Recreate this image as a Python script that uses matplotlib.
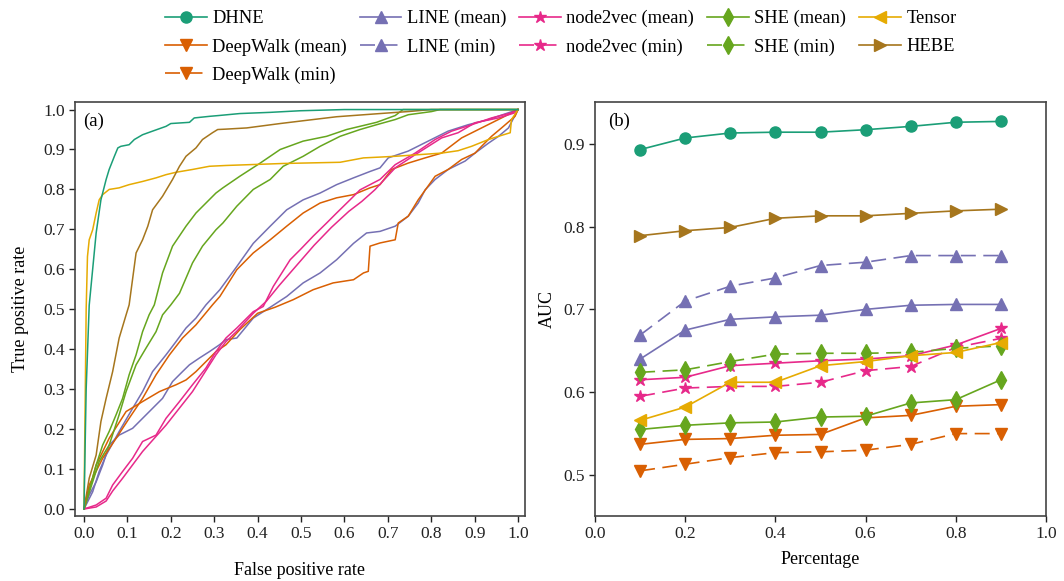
import matplotlib
matplotlib.use("Agg")
import matplotlib.pyplot as plt
import numpy as np

plt.rcParams['font.family'] = ['Liberation Serif', 'DejaVu Serif']
plt.rcParams['mathtext.fontset'] = 'stix'

# ---------------- Panel (b) data ----------------
pct = [0.1, 0.2, 0.3, 0.4, 0.5, 0.6, 0.7, 0.8, 0.9]
auc_dhne = [0.893, 0.907, 0.913, 0.914, 0.914, 0.917, 0.921, 0.926, 0.927]
auc_deepwalk_mean = [0.537, 0.543, 0.544, 0.548, 0.549, 0.569, 0.572, 0.583, 0.585]
auc_deepwalk_min = [0.505, 0.513, 0.521, 0.527, 0.528, 0.530, 0.537, 0.550, 0.550]
auc_line_mean = [0.640, 0.675, 0.688, 0.691, 0.693, 0.700, 0.705, 0.706, 0.706]
auc_line_min = [0.669, 0.710, 0.728, 0.738, 0.753, 0.757, 0.765, 0.765, 0.765]
auc_n2v_mean = [0.615, 0.618, 0.632, 0.635, 0.638, 0.640, 0.644, 0.657, 0.677]
auc_n2v_min = [0.595, 0.605, 0.607, 0.607, 0.612, 0.626, 0.631, 0.654, 0.665]
auc_she_mean = [0.555, 0.560, 0.563, 0.564, 0.570, 0.571, 0.587, 0.591, 0.615]
auc_she_min = [0.624, 0.627, 0.637, 0.646, 0.647, 0.647, 0.648, 0.653, 0.656]
auc_tensor = [0.566, 0.582, 0.612, 0.612, 0.632, 0.637, 0.644, 0.648, 0.660]
auc_hebe = [0.789, 0.795, 0.799, 0.810, 0.813, 0.813, 0.816, 0.819, 0.821]

# ---------------- Panel (a) ROC data ----------------
fpr_dhne = [0, 0.005, 0.012, 0.028, 0.039, 0.051, 0.058, 0.070, 0.078, 0.085, 0.104, 0.116, 0.135, 0.158,
            0.189, 0.200, 0.243, 0.254, 0.289, 0.310, 0.359, 0.429, 0.498, 0.60, 1.0]
tpr_dhne = [0, 0.30, 0.51, 0.691, 0.774, 0.825, 0.850, 0.883, 0.904, 0.908, 0.912, 0.925, 0.937, 0.946,
            0.958, 0.965, 0.968, 0.979, 0.983, 0.985, 0.990, 0.993, 0.997, 1.0, 1.0]

fpr_tensor = [0, 0.003, 0.005, 0.008, 0.012, 0.020, 0.028, 0.035, 0.043, 0.058, 0.081, 0.104, 0.135, 0.166,
              0.189, 0.212, 0.250, 0.289, 0.327, 0.459, 0.590, 0.644, 0.682, 0.717, 0.824, 0.862, 0.893,
              0.932, 0.955, 0.982, 0.985, 0.997, 1.0]
tpr_tensor = [0, 0.30, 0.50, 0.632, 0.674, 0.699, 0.741, 0.774, 0.787, 0.800, 0.804, 0.812, 0.820, 0.829,
              0.837, 0.843, 0.850, 0.858, 0.860, 0.865, 0.868, 0.879, 0.881, 0.883, 0.891, 0.897, 0.908,
              0.925, 0.933, 0.942, 0.975, 0.995, 1.0]

fpr_hebe = [0, 0.012, 0.028, 0.039, 0.051, 0.066, 0.081, 0.097, 0.104, 0.120, 0.135, 0.147, 0.158, 0.181,
            0.204, 0.220, 0.235, 0.258, 0.273, 0.296, 0.308, 0.327, 0.375, 0.452, 0.505, 0.582, 0.682,
            0.747, 0.80, 1.0]
tpr_hebe = [0, 0.077, 0.135, 0.219, 0.277, 0.344, 0.428, 0.486, 0.511, 0.641, 0.674, 0.708, 0.749, 0.783,
            0.825, 0.858, 0.883, 0.904, 0.925, 0.942, 0.950, 0.951, 0.954, 0.965, 0.972, 0.982, 0.990,
            0.995, 1.0, 1.0]

fpr_she_a = [0, 0.028, 0.043, 0.058, 0.074, 0.089, 0.104, 0.120, 0.135, 0.150, 0.162, 0.181, 0.204, 0.235,
             0.258, 0.281, 0.304, 0.320, 0.359, 0.406, 0.452, 0.505, 0.559, 0.605, 0.651, 0.674, 0.717,
             0.735, 1.0]
tpr_she_a = [0, 0.110, 0.160, 0.194, 0.236, 0.277, 0.336, 0.386, 0.444, 0.486, 0.511, 0.591, 0.658, 0.708,
             0.741, 0.766, 0.791, 0.804, 0.833, 0.866, 0.900, 0.921, 0.933, 0.950, 0.962, 0.968, 0.985,
             1.0, 1.0]

fpr_she_b = [0, 0.035, 0.058, 0.081, 0.097, 0.120, 0.143, 0.166, 0.181, 0.200, 0.220, 0.250, 0.273, 0.304,
             0.320, 0.352, 0.390, 0.429, 0.459, 0.505, 0.544, 0.590, 0.636, 0.674, 0.717, 0.747, 0.801,
             0.82, 1.0]
tpr_she_b = [0, 0.119, 0.160, 0.236, 0.294, 0.361, 0.403, 0.444, 0.486, 0.511, 0.540, 0.616, 0.658, 0.699,
             0.716, 0.758, 0.800, 0.825, 0.858, 0.883, 0.908, 0.933, 0.950, 0.962, 0.975, 0.987, 0.995,
             1.0, 1.0]

fpr_line_a = [0, 0.020, 0.035, 0.051, 0.081, 0.112, 0.135, 0.158, 0.189, 0.212, 0.235, 0.258, 0.281, 0.313,
              0.352, 0.390, 0.429, 0.467, 0.505, 0.544, 0.582, 0.621, 0.659, 0.682, 0.701, 0.747, 0.793,
              0.839, 0.885, 0.932, 0.978, 1.0]
tpr_line_a = [0, 0.043, 0.094, 0.135, 0.194, 0.252, 0.294, 0.344, 0.386, 0.419, 0.453, 0.478, 0.511, 0.549,
              0.607, 0.665, 0.708, 0.749, 0.774, 0.791, 0.812, 0.829, 0.845, 0.854, 0.879, 0.896, 0.921,
              0.946, 0.962, 0.975, 0.992, 1.0]

fpr_line_b = [0, 0.012, 0.028, 0.043, 0.058, 0.081, 0.112, 0.135, 0.158, 0.181, 0.204, 0.227, 0.243, 0.266,
              0.289, 0.312, 0.327, 0.352, 0.390, 0.429, 0.467, 0.505, 0.544, 0.582, 0.621, 0.651, 0.682,
              0.717, 0.747, 0.770, 0.786, 0.809, 0.839, 0.878, 0.901, 0.932, 0.955, 0.978, 1.0]
tpr_line_b = [0, 0.035, 0.068, 0.110, 0.160, 0.185, 0.202, 0.227, 0.252, 0.277, 0.319, 0.344, 0.361, 0.378,
              0.394, 0.411, 0.424, 0.428, 0.478, 0.505, 0.532, 0.566, 0.591, 0.624, 0.665, 0.691, 0.695,
              0.708, 0.733, 0.766, 0.799, 0.825, 0.850, 0.871, 0.891, 0.916, 0.933, 0.954, 1.0]

fpr_dw_a = [0, 0.012, 0.043, 0.074, 0.104, 0.135, 0.166, 0.197, 0.227, 0.258, 0.296, 0.313, 0.352, 0.390,
            0.429, 0.467, 0.505, 0.544, 0.582, 0.621, 0.659, 0.682, 0.709, 0.747, 0.786, 0.824, 0.870,
            0.916, 0.962, 1.0]
tpr_dw_a = [0, 0.060, 0.127, 0.177, 0.227, 0.277, 0.336, 0.386, 0.428, 0.461, 0.511, 0.532, 0.599, 0.641,
            0.674, 0.708, 0.741, 0.766, 0.779, 0.787, 0.804, 0.812, 0.850, 0.866, 0.879, 0.891, 0.929,
            0.954, 0.979, 1.0]

fpr_dw_b = [0, 0.028, 0.058, 0.097, 0.135, 0.174, 0.212, 0.235, 0.258, 0.281, 0.304, 0.327, 0.360, 0.400,
            0.440, 0.482, 0.528, 0.574, 0.621, 0.644, 0.655, 0.659, 0.682, 0.717, 0.724, 0.747, 0.770,
            0.809, 0.839, 0.870, 0.901, 0.916, 0.939, 0.962, 0.993, 1.0]
tpr_dw_b = [0, 0.110, 0.177, 0.244, 0.269, 0.294, 0.311, 0.323, 0.344, 0.369, 0.394, 0.411, 0.450, 0.490,
            0.505, 0.524, 0.549, 0.566, 0.574, 0.591, 0.595, 0.658, 0.666, 0.674, 0.716, 0.733, 0.774,
            0.833, 0.850, 0.875, 0.891, 0.908, 0.933, 0.954, 0.983, 1.0]

fpr_n2v_a = [0, 0.028, 0.051, 0.066, 0.089, 0.112, 0.135, 0.166, 0.189, 0.220, 0.250, 0.281, 0.304, 0.327,
             0.352, 0.390, 0.413, 0.436, 0.475, 0.498, 0.528, 0.559, 0.582, 0.613, 0.636, 0.682, 0.717,
             0.763, 0.809, 0.847, 0.893, 0.939, 0.985, 1.0]
tpr_n2v_a = [0, 0.010, 0.027, 0.060, 0.094, 0.127, 0.169, 0.185, 0.227, 0.269, 0.311, 0.353, 0.394, 0.428,
             0.453, 0.494, 0.507, 0.557, 0.624, 0.649, 0.683, 0.716, 0.741, 0.774, 0.799, 0.825, 0.862,
             0.891, 0.925, 0.946, 0.962, 0.979, 0.992, 1.0]

fpr_n2v_b = [0, 0.028, 0.051, 0.066, 0.089, 0.135, 0.189, 0.250, 0.304, 0.327, 0.352, 0.390, 0.420, 0.450,
             0.490, 0.530, 0.570, 0.610, 0.640, 0.670, 0.717, 0.763, 0.824, 0.862, 0.901, 0.955, 0.993, 1.0]
tpr_n2v_b = [0, 0.005, 0.020, 0.045, 0.077, 0.144, 0.210, 0.294, 0.386, 0.419, 0.445, 0.490, 0.520, 0.560,
             0.610, 0.660, 0.705, 0.745, 0.770, 0.799, 0.854, 0.887, 0.929, 0.942, 0.967, 0.979, 0.992, 1.0]

# ---------------- Styling ----------------
c_dhne = '#1b9e77'
c_dw = '#d95f02'
c_line = '#7570b3'
c_n2v = '#e7298a'
c_she = '#66a61e'
c_tensor = '#e6ab02'
c_hebe = '#a6761d'

fig = plt.figure(figsize=(10.64, 5.81), dpi=100)
ax_a = fig.add_axes([0.0705, 0.1119, 0.4229, 0.7126])
ax_b = fig.add_axes([0.5592, 0.1119, 0.4239, 0.7126])

lw_a = 1.1
ax_a.plot(fpr_line_b, tpr_line_b, color=c_line, lw=lw_a)
ax_a.plot(fpr_line_a, tpr_line_a, color=c_line, lw=lw_a)
ax_a.plot(fpr_dw_b, tpr_dw_b, color=c_dw, lw=lw_a)
ax_a.plot(fpr_dw_a, tpr_dw_a, color=c_dw, lw=lw_a)
ax_a.plot(fpr_n2v_b, tpr_n2v_b, color=c_n2v, lw=lw_a)
ax_a.plot(fpr_n2v_a, tpr_n2v_a, color=c_n2v, lw=lw_a)
ax_a.plot(fpr_she_b, tpr_she_b, color=c_she, lw=lw_a)
ax_a.plot(fpr_she_a, tpr_she_a, color=c_she, lw=lw_a)
ax_a.plot(fpr_tensor, tpr_tensor, color=c_tensor, lw=lw_a)
ax_a.plot(fpr_hebe, tpr_hebe, color=c_hebe, lw=lw_a)
ax_a.plot(fpr_dhne, tpr_dhne, color=c_dhne, lw=lw_a)

ax_a.set_xlim(-0.0207, 1.016)
ax_a.set_ylim(-0.0175, 1.019)
ax_a.set_xticks(np.arange(0, 1.01, 0.1))
ax_a.set_yticks(np.arange(0, 1.01, 0.1))
ax_a.set_xticklabels([f"{v:.1f}" for v in np.arange(0, 1.01, 0.1)])
ax_a.set_yticklabels([f"{v:.1f}" for v in np.arange(0, 1.01, 0.1)])
ax_a.set_xlabel("False positive rate", fontsize=13, labelpad=14)
ax_a.set_ylabel("True positive rate", fontsize=13, labelpad=10)
ax_a.text(0.017, 0.975, "(a)", transform=ax_a.transAxes, fontsize=13.5, va='top', ha='left')

ms = 8
lw_b = 1.2
dash = (0, (9, 4.5))
ax_b.plot(pct, auc_dhne, color=c_dhne, lw=lw_b, marker='o', ms=ms, label='DHNE')
ax_b.plot(pct, auc_deepwalk_mean, color=c_dw, lw=lw_b, marker='v', ms=ms, label='DeepWalk (mean)')
ax_b.plot(pct, auc_deepwalk_min, color=c_dw, lw=lw_b, ls=dash, marker='v', ms=ms, label='DeepWalk (min)')
ax_b.plot(pct, auc_line_mean, color=c_line, lw=lw_b, marker='^', ms=ms, label='LINE (mean)')
ax_b.plot(pct, auc_line_min, color=c_line, lw=lw_b, ls=dash, marker='^', ms=ms, label='LINE (min)')
ax_b.plot(pct, auc_n2v_mean, color=c_n2v, lw=lw_b, marker='*', ms=ms + 1, label='node2vec (mean)')
ax_b.plot(pct, auc_n2v_min, color=c_n2v, lw=lw_b, ls=dash, marker='*', ms=ms + 1, label='node2vec (min)')
ax_b.plot(pct, auc_she_mean, color=c_she, lw=lw_b, marker='d', ms=ms + 1, label='SHE (mean)')
ax_b.plot(pct, auc_she_min, color=c_she, lw=lw_b, ls=dash, marker='d', ms=ms + 1, label='SHE (min)')
ax_b.plot(pct, auc_tensor, color=c_tensor, lw=lw_b, marker='<', ms=ms, label='Tensor')
ax_b.plot(pct, auc_hebe, color=c_hebe, lw=lw_b, marker='>', ms=ms, label='HEBE')

ax_b.set_xlim(0, 1.0)
ax_b.set_ylim(0.4505, 0.9505)
ax_b.set_xticks(np.arange(0, 1.01, 0.2))
ax_b.set_xticklabels([f"{v:.1f}" for v in np.arange(0, 1.01, 0.2)])
ax_b.set_yticks([0.5, 0.6, 0.7, 0.8, 0.9])
ax_b.set_yticklabels(["0.5", "0.6", "0.7", "0.8", "0.9"])
ax_b.set_xlabel("Percentage", fontsize=13, labelpad=6)
ax_b.set_ylabel("AUC", fontsize=13, labelpad=5)
ax_b.text(0.029, 0.975, "(b)", transform=ax_b.transAxes, fontsize=13.5, va='top', ha='left')

for ax in (ax_a, ax_b):
    for sp in ax.spines.values():
        sp.set_color('#444444')
        sp.set_linewidth(1.2)
    ax.tick_params(direction='out', length=4, width=1, colors='#222222', labelsize=12.5,
                   top=False, right=False)

handles, labels = ax_b.get_legend_handles_labels()
fig.legend(handles, labels, loc='upper left', bbox_to_anchor=(165 / 1064, 0.983), ncol=5,
           frameon=False, fontsize=13.3, handlelength=2.25, columnspacing=0.7,
           handletextpad=0.3, labelspacing=0.6, borderpad=0, borderaxespad=0)

fig.savefig("out.png", dpi=100)
